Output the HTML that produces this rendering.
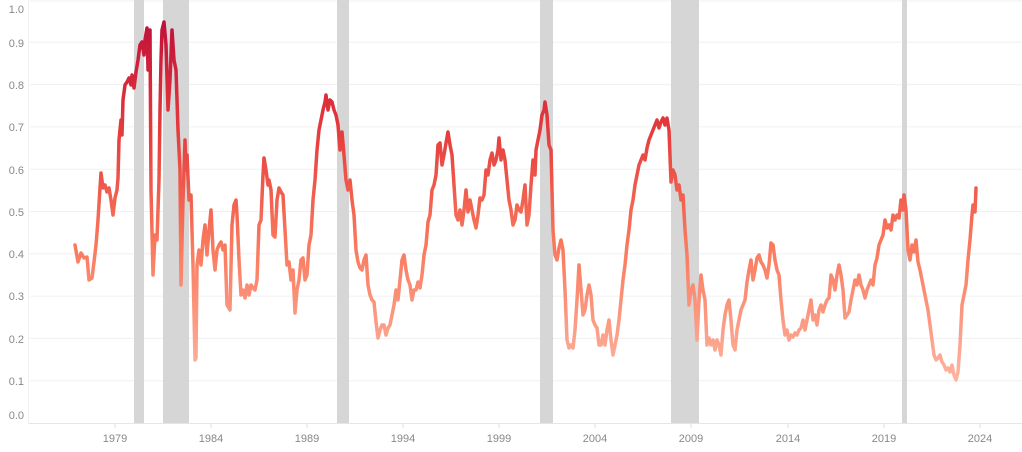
<!DOCTYPE html>
<html><head><meta charset="utf-8"><style>
html,body{margin:0;padding:0;background:#fff;}
svg{display:block;font-family:"Liberation Sans",sans-serif;}
</style></head><body>
<svg width="1022" height="452" viewBox="0 0 1022 452">
<defs>
<linearGradient id="g" gradientUnits="userSpaceOnUse" x1="0" y1="20" x2="0" y2="380">
<stop offset="0" stop-color="#c0103a"/>
<stop offset="0.3" stop-color="#e43a3c"/>
<stop offset="0.62" stop-color="#f9785c"/>
<stop offset="1" stop-color="#fdb4a0"/>
</linearGradient>
</defs>
<g stroke="#f0f0f0" stroke-width="1">
<line x1="30" x2="1022" y1="1" y2="1"/>
<line x1="30" x2="1022" y1="42.3" y2="42.3"/>
<line x1="30" x2="1022" y1="84.6" y2="84.6"/>
<line x1="30" x2="1022" y1="126.9" y2="126.9"/>
<line x1="30" x2="1022" y1="169.2" y2="169.2"/>
<line x1="30" x2="1022" y1="211.5" y2="211.5"/>
<line x1="30" x2="1022" y1="253.8" y2="253.8"/>
<line x1="30" x2="1022" y1="296.1" y2="296.1"/>
<line x1="30" x2="1022" y1="338.4" y2="338.4"/>
<line x1="30" x2="1022" y1="380.7" y2="380.7"/>
</g>
<g fill="#d6d6d6">
<rect x="134" y="0" width="10" height="423"/>
<rect x="163" y="0" width="26" height="423"/>
<rect x="337" y="0" width="12" height="423"/>
<rect x="540" y="0" width="13" height="423"/>
<rect x="671" y="0" width="28" height="423"/>
<rect x="902" y="0" width="5" height="423"/>
</g>
<line x1="28" x2="1022" y1="423.5" y2="423.5" stroke="#e6e6e6"/>
<line x1="28.5" x2="28.5" y1="0" y2="424" stroke="#f0f0f0"/>
<g stroke="#ddd">
<line x1="115" x2="115" y1="424" y2="428"/><line x1="211" x2="211" y1="424" y2="428"/>
<line x1="307" x2="307" y1="424" y2="428"/><line x1="403" x2="403" y1="424" y2="428"/>
<line x1="499" x2="499" y1="424" y2="428"/><line x1="595" x2="595" y1="424" y2="428"/>
<line x1="691" x2="691" y1="424" y2="428"/><line x1="788" x2="788" y1="424" y2="428"/>
<line x1="884" x2="884" y1="424" y2="428"/><line x1="980" x2="980" y1="424" y2="428"/>
</g>
<g fill="#888" font-size="11" text-anchor="end">
<text x="24" y="13">1.0</text><text x="24" y="47">0.9</text><text x="24" y="89">0.8</text>
<text x="24" y="131">0.7</text><text x="24" y="174">0.6</text><text x="24" y="216">0.5</text>
<text x="24" y="258">0.4</text><text x="24" y="300">0.3</text><text x="24" y="343">0.2</text>
<text x="24" y="385">0.1</text><text x="24" y="419">0.0</text>
</g>
<g fill="#888" font-size="11" text-anchor="middle">
<text x="115" y="442">1979</text><text x="211" y="442">1984</text><text x="307" y="442">1989</text>
<text x="403" y="442">1994</text><text x="499" y="442">1999</text><text x="595" y="442">2004</text>
<text x="691" y="442">2009</text><text x="788" y="442">2014</text><text x="884" y="442">2019</text>
<text x="980" y="442">2024</text>
</g>
<polyline fill="none" stroke="url(#g)" stroke-width="3.5" stroke-linejoin="round" stroke-linecap="round" points="75,245 78,262 81,253 84,258 87,257 89,280 92,278 94,262 96,245 98,220 100,188 101,173 103,188 105,185 107,192 109,188 111,200 113,215 115,198 117,190 118,178 119,140 121,120 122,135 123,100 125,85 127,82 129,78 131,85 132,75 134,88 136,72 138,60 140,45 142,42 144,55 145,40 147,28 148,70 150,30 151,190 153,275 155,235 157,240 159,180 160,110 161,60 162,30 164,22 166,45 168,110 170,80 172,30 174,60 176,70 178,130 180,170 181,285 183,200 185,140 186,170 187,155 189,200 191,195 193,265 195,360 196,358 197,265 199,250 201,265 203,240 205,225 207,255 209,230 211,210 213,250 215,270 217,250 219,245 221,242 223,250 225,245 227,305 230,310 232,225 234,205 236,200 237,215 239,260 241,295 243,290 245,298 247,285 249,295 251,285 253,288 255,290 257,280 259,225 261,220 263,175 264,158 266,170 268,185 269,180 271,190 273,235 275,237 277,200 279,188 281,192 283,195 285,230 287,265 289,262 291,280 293,270 295,313 297,290 299,280 301,260 303,258 305,280 307,275 309,245 311,235 313,200 315,180 317,150 319,130 321,120 323,110 325,102 326,95 328,110 330,100 332,102 334,110 336,115 338,125 340,150 342,132 344,155 346,180 348,190 350,180 352,200 354,215 356,250 358,262 360,268 362,270 364,260 366,255 368,285 370,295 372,300 374,302 376,322 378,338 380,330 382,325 384,325 386,335 388,328 390,325 392,315 394,305 396,290 398,300 400,280 402,260 404,255 406,270 408,280 410,285 412,300 414,290 416,290 418,282 420,288 422,275 424,255 426,245 428,222 430,215 432,190 434,185 436,175 438,145 440,143 442,165 444,155 446,143 448,132 450,145 452,155 454,185 456,215 458,220 460,210 462,225 464,210 466,190 468,212 470,200 472,210 474,220 476,228 478,215 480,198 482,200 484,195 486,170 488,175 490,160 492,153 494,165 496,160 498,150 499,138 501,160 503,150 505,160 507,180 509,200 511,210 513,225 515,220 517,205 519,210 521,212 523,200 525,185 527,225 529,215 531,185 533,160 535,175 536,150 538,140 540,130 542,115 544,110 545,102 547,115 549,145 551,150 553,230 555,255 557,260 559,248 561,240 563,250 565,290 567,340 569,348 571,345 573,348 575,330 577,300 579,265 581,290 583,315 585,310 587,295 589,285 591,295 593,320 595,325 597,328 599,345 601,345 603,335 605,345 607,330 609,320 611,340 613,355 615,345 617,335 619,320 621,300 623,280 625,265 627,245 629,230 631,210 633,200 635,185 637,175 639,165 641,160 643,155 645,160 647,148 649,140 651,135 653,130 655,125 657,120 659,128 661,122 663,118 665,125 667,118 669,130 671,182 673,170 675,175 677,190 679,185 681,200 683,195 685,230 687,255 689,305 691,290 693,285 695,300 697,340 699,300 701,275 703,290 705,300 707,345 709,338 711,345 713,340 715,350 717,340 719,345 721,355 723,330 725,315 727,305 729,300 731,320 733,345 735,350 737,330 739,320 741,310 743,305 745,300 747,282 749,270 751,260 753,280 755,270 757,258 759,255 761,262 763,265 765,270 767,278 769,265 771,243 773,245 775,260 777,270 779,275 781,300 783,320 785,335 787,330 789,340 791,335 793,337 795,333 797,335 799,330 801,328 803,320 805,330 807,320 809,310 811,300 813,320 815,315 817,325 819,310 821,305 823,312 825,305 827,300 829,298 831,275 833,280 835,290 837,275 839,265 841,275 843,290 845,318 847,315 849,312 851,300 853,290 855,280 857,285 859,275 861,285 863,290 865,298 867,290 869,285 871,280 873,285 875,265 877,258 879,245 881,240 883,235 885,220 887,228 889,225 891,230 893,215 895,220 897,215 899,218 901,200 903,210 904,195 906,210 908,250 910,260 912,245 914,252 916,240 918,262 920,270 922,280 924,290 926,300 928,310 930,325 932,340 934,355 936,360 938,358 940,355 942,362 944,365 946,370 948,368 950,372 952,365 954,375 956,380 958,372 960,345 962,305 964,295 966,285 968,260 970,240 972,215 973,205 975,212 976,188"/>
</svg>
</body></html>
